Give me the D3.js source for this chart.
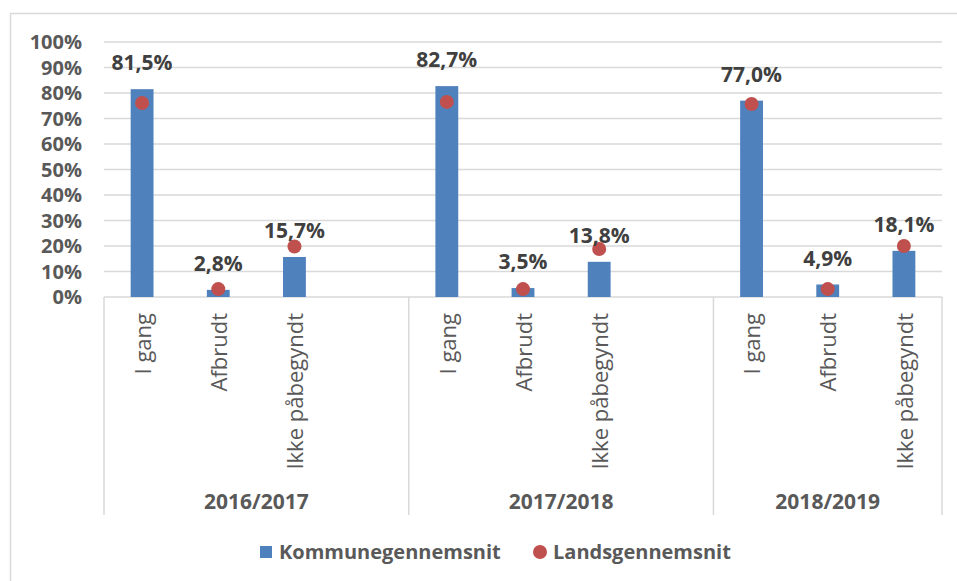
<!DOCTYPE html>
<html>
<head>
<meta charset="utf-8">
<script src="https://cdn.jsdelivr.net/npm/d3@7"></script>
<style>
  body { margin: 0; background: #fff; }
  svg text { font-family: "Open Sans", sans-serif; fill: #595959; }
</style>
</head>
<body>
<div id="chart"></div>
<script>
// data
const years = ['2016/2017', '2017/2018', '2018/2019'];
const categories = ['I gang', 'Afbrudt', 'Ikke påbegyndt'];
const kommune = [
  [0.815, 0.028, 0.157],
  [0.827, 0.035, 0.138],
  [0.770, 0.049, 0.181]
];
const kommuneLabels = [
  ['81,5%', '2,8%', '15,7%'],
  ['82,7%', '3,5%', '13,8%'],
  ['77,0%', '4,9%', '18,1%']
];
const lands = [
  [0.761, 0.031, 0.198],
  [0.765, 0.031, 0.188],
  [0.757, 0.031, 0.200]
];
const yTicks = [0, 0.1, 0.2, 0.3, 0.4, 0.5, 0.6, 0.7, 0.8, 0.9, 1];
const seriesNames = ['Kommunegennemsnit', 'Landsgennemsnit'];

const width = 957;
const height = 581;
const blue = '#4f81bd';
const red = '#c0504d';
const grid = '#d9d9d9';

// slots: each year gets its categories, first two years also have an empty slot
let slots = [];
years.forEach((yr, i) => {
  categories.forEach((c, j) => slots.push(yr + '|' + j));
  if (i < years.length - 1) slots.push(yr + '|gap');
});

const x = d3.scaleBand().domain(slots).range([104, 942]).padding(0);
const y = d3.scaleLinear().domain([0, 1]).range([297, 42]);
const barW = x.bandwidth() * 0.3;

const svg = d3.select('#chart').append('svg')
  .attr('width', width)
  .attr('height', height);

// outer frame
svg.append('rect')
  .attr('x', 10.5).attr('y', 13.5)
  .attr('width', 980).attr('height', 600)
  .attr('fill', 'none')
  .attr('stroke', grid)
  .attr('stroke-width', 1.5);

// gridlines
svg.append('g')
  .selectAll('line')
  .data(yTicks)
  .enter()
  .append('line')
  .attr('x1', 104).attr('x2', 942)
  .attr('y1', d => y(d)).attr('y2', d => y(d))
  .attr('stroke', grid)
  .attr('stroke-width', 1.5);

// y axis labels
svg.append('g')
  .selectAll('text')
  .data(yTicks)
  .enter()
  .append('text')
  .attr('x', 82)
  .attr('y', d => y(d))
  .attr('dy', '0.35em')
  .attr('text-anchor', 'end')
  .attr('font-size', 20)
  .attr('font-weight', 'bold')
  .text(d => d3.format('.0%')(d));

// group boundaries
let bounds = years.map(yr => x(yr + '|0'));
bounds.push(x.range()[1]);
svg.append('g')
  .selectAll('line')
  .data(bounds)
  .enter()
  .append('line')
  .attr('x1', d => d).attr('x2', d => d)
  .attr('y1', y(0)).attr('y2', 515)
  .attr('stroke', grid)
  .attr('stroke-width', 1.5);

// flatten for drawing
let points = [];
years.forEach((yr, i) => {
  categories.forEach((c, j) => {
    points.push({
      key: yr + '|' + j,
      cat: c,
      k: kommune[i][j],
      label: kommuneLabels[i][j],
      l: lands[i][j]
    });
  });
});

const cx = d => x(d.key) + x.bandwidth() / 2;

svg.append('g')
  .selectAll('rect')
  .data(points)
  .enter()
  .append('rect')
  .attr('x', d => cx(d) - barW / 2)
  .attr('y', d => y(d.k))
  .attr('width', barW)
  .attr('height', d => y(0) - y(d.k))
  .attr('fill', blue);

svg.append('g')
  .selectAll('circle')
  .data(points)
  .enter()
  .append('circle')
  .attr('cx', cx)
  .attr('cy', d => y(d.l))
  .attr('r', 7)
  .attr('fill', red);

// value labels
svg.append('g')
  .selectAll('text')
  .data(points)
  .enter()
  .append('text')
  .attr('x', cx)
  .attr('y', d => y(d.k) - 19)
  .attr('text-anchor', 'middle')
  .attr('font-size', 21)
  .attr('font-weight', 'bold')
  .style('fill', '#404040')
  .text(d => d.label);

// category labels, rotated
svg.append('g')
  .selectAll('text')
  .data(points)
  .enter()
  .append('text')
  .attr('transform', d => 'translate(' + (cx(d) + 1) + ',313) rotate(-90)')
  .attr('text-anchor', 'end')
  .attr('dy', '0.35em')
  .attr('font-size', 22)
  .text(d => d.cat);

// year labels
svg.append('g')
  .selectAll('text')
  .data(years)
  .enter()
  .append('text')
  .attr('x', (d, i) => (bounds[i] + bounds[i + 1]) / 2)
  .attr('y', 509)
  .attr('text-anchor', 'middle')
  .attr('font-size', 21)
  .attr('font-weight', 'bold')
  .text(d => d);

// legend
const legend = svg.append('g');
legend.append('rect')
  .attr('x', 260).attr('y', 546)
  .attr('width', 12).attr('height', 12)
  .attr('fill', blue);
legend.append('text')
  .attr('x', 279).attr('y', 552)
  .attr('dy', '0.35em')
  .attr('font-size', 20)
  .attr('font-weight', 'bold')
  .text(seriesNames[0]);
legend.append('circle')
  .attr('cx', 540).attr('cy', 552)
  .attr('r', 7)
  .attr('fill', red);
legend.append('text')
  .attr('x', 553).attr('y', 552)
  .attr('dy', '0.35em')
  .attr('font-size', 20)
  .attr('font-weight', 'bold')
  .text(seriesNames[1]);
</script>
</body>
</html>
